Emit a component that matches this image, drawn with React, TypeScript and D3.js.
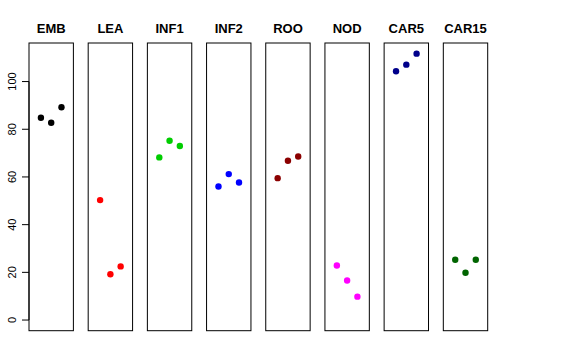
import { useEffect, useRef } from 'react';
import * as d3 from 'd3';

// ─── Data ──────────────────────────────────────────────────
const groups = ['EMB', 'LEA', 'INF1', 'INF2', 'ROO', 'NOD', 'CAR5', 'CAR15'];
const colors = ['#000000', '#FF0000', '#00CD00', '#0000FF', '#8B0000', '#FF00FF', '#00008B', '#006400'];
const values: number[][] = [
  [84.8, 82.7, 89.2],
  [50.3, 19.2, 22.5],
  [68.2, 75.2, 73.0],
  [56.0, 61.2, 57.7],
  [59.5, 66.8, 68.6],
  [22.9, 16.6, 9.8],
  [104.3, 107.1, 111.7],
  [25.3, 19.8, 25.3],
];
const yTicks = [0, 20, 40, 60, 80, 100];

const W = 576;
const H = 360;
const FONT = '"Liberation Sans", Arial, Helvetica, sans-serif';

export default function App() {
  const svgRef = useRef<SVGSVGElement>(null);

  useEffect(() => {
    if (!svgRef.current) return;
    const svg = d3.select(svgRef.current);
    svg.selectAll('*').remove();

    const top = 43;
    const bottom = 330.7;

    // ─── Scales ────────────────────────────────────────────
    const band = d3.scaleBand<string>().domain(groups).range([29, 487.7]).paddingInner(0.25).paddingOuter(0);

    const yMax = d3.max(values.flat()) ?? 1;
    const yMin = 0;
    const ext = (yMax - yMin) * 0.04;
    const y = d3.scaleLinear().domain([yMin - ext, yMax + ext]).range([bottom, top]);

    // ─── Panels ────────────────────────────────────────────
    groups.forEach((name, i) => {
      const x0 = band(name) ?? 0;
      const bw = band.bandwidth();
      const x = d3.scaleLinear().domain([-0.16, 4.16]).range([x0, x0 + bw]);
      const g = svg.append('g');

      g.append('rect')
        .attr('x', x0)
        .attr('y', top)
        .attr('width', bw)
        .attr('height', bottom - top)
        .attr('fill', 'none')
        .attr('stroke', '#000')
        .attr('stroke-width', 1);

      g.append('text')
        .attr('x', x0 + bw / 2)
        .attr('y', 33)
        .attr('text-anchor', 'middle')
        .attr('font-family', FONT)
        .attr('font-weight', 'bold')
        .attr('font-size', 13)
        .text(name);

      g.selectAll('circle')
        .data(values[i])
        .join('circle')
        .attr('cx', (_, j) => x(j + 1))
        .attr('cy', (d) => y(d))
        .attr('r', 3.2)
        .attr('fill', colors[i]);
    });

    // ─── Y axis ────────────────────────────────────────────
    const axisX = 29;
    const ax = svg.append('g');
    ax.append('line')
      .attr('x1', axisX)
      .attr('x2', axisX)
      .attr('y1', y(yTicks[0]))
      .attr('y2', y(yTicks[yTicks.length - 1]))
      .attr('stroke', '#000');
    yTicks.forEach((t) => {
      ax.append('line')
        .attr('x1', axisX - 7)
        .attr('x2', axisX)
        .attr('y1', y(t))
        .attr('y2', y(t))
        .attr('stroke', '#000');
      ax.append('text')
        .attr('transform', `translate(16, ${y(t)}) rotate(-90)`)
        .attr('text-anchor', 'middle')
        .attr('font-family', FONT)
        .attr('font-size', 11)
        .text(t);
    });
  }, []);

  return (
    <svg
      ref={svgRef}
      width={W}
      height={H}
      style={{ display: 'block', position: 'absolute', left: 0, top: 0, background: '#fff' }}
    />
  );
}
